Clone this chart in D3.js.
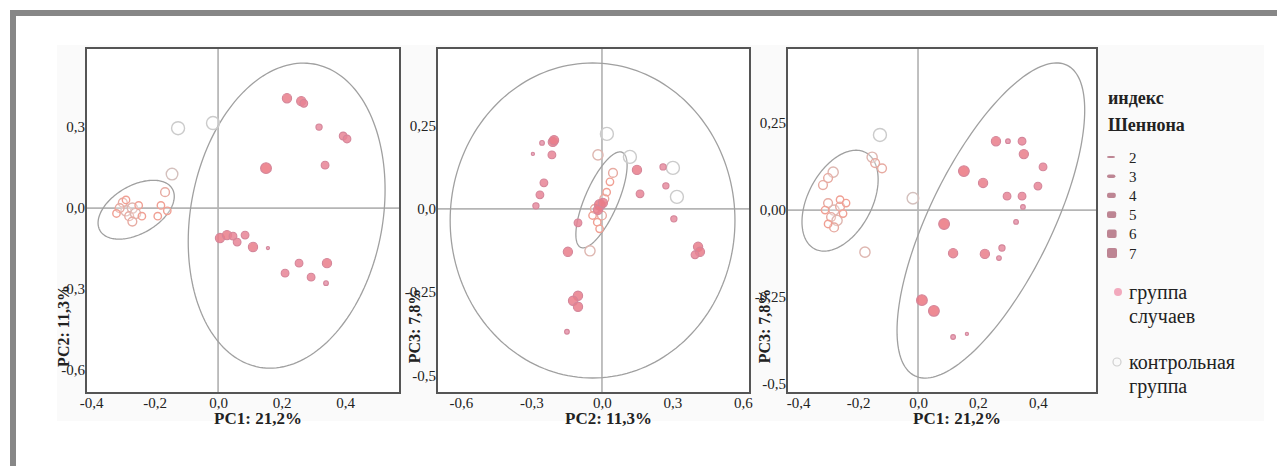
<!DOCTYPE html>
<html>
<head>
<meta charset="utf-8">
<script src="https://cdn.jsdelivr.net/npm/d3@7/dist/d3.min.js"></script>
<style>
  html, body { margin: 0; padding: 0; background: #ffffff; }
  svg { display: block; }
  text { font-family: "Liberation Serif", "Times New Roman", serif; fill: #222; }
</style>
</head>
<body>
<svg id="chart" width="1277" height="466"></svg>
<script>
// PCA score plots: [component A, component B, Shannon index]
const pc12Case = [
  [0.217, 0.407, 6], [0.262, 0.396, 6], [0.270, 0.388, 5], [0.318, 0.300, 4],
  [0.394, 0.267, 5], [0.406, 0.256, 5], [0.151, 0.148, 7], [0.337, 0.159, 5],
  [0.006, -0.111, 6], [0.028, -0.100, 6], [0.047, -0.104, 5], [0.060, -0.126, 5],
  [0.085, -0.100, 5], [0.110, -0.144, 6], [0.157, -0.148, 2], [0.255, -0.204, 5],
  [0.343, -0.204, 6], [0.211, -0.241, 5], [0.293, -0.256, 5], [0.340, -0.278, 3]
];
const pc12Control = [
  [-0.126, 0.296, 7], [-0.016, 0.315, 7], [-0.145, 0.126, 6], [-0.167, 0.059, 4],
  [-0.180, 0.010, 3], [-0.160, -0.010, 3], [-0.190, -0.030, 3],
  [-0.300, 0.020, 4], [-0.290, -0.010, 5], [-0.270, 0.000, 5], [-0.280, -0.030, 4],
  [-0.260, -0.020, 5], [-0.310, 0.000, 4], [-0.250, 0.010, 3], [-0.270, -0.050, 4],
  [-0.290, 0.030, 3], [-0.240, -0.030, 3], [-0.320, -0.020, 3]
];
const pc23Case = [
  [-0.255, 0.198, 3], [-0.209, 0.201, 6], [-0.204, 0.206, 6], [-0.213, 0.162, 5],
  [-0.294, 0.165, 2], [-0.247, 0.078, 5], [-0.264, 0.042, 5], [-0.281, 0.009, 4],
  [-0.102, -0.042, 5], [-0.145, -0.129, 6], [-0.102, -0.261, 6], [-0.123, -0.276, 6],
  [-0.102, -0.294, 6], [-0.149, -0.369, 3], [-0.009, 0.012, 7], [-0.017, -0.003, 6],
  [0.004, 0.018, 6], [0.149, 0.117, 6], [0.260, 0.126, 4], [0.272, 0.069, 4],
  [0.162, 0.045, 5], [0.306, -0.030, 4], [0.409, -0.114, 6], [0.417, -0.129, 6],
  [0.396, -0.138, 5]
];
const pc23Control = [
  [0.021, 0.225, 7], [-0.017, 0.162, 5], [0.119, 0.156, 7], [0.302, 0.123, 7],
  [0.319, 0.036, 7], [0.047, 0.108, 4], [0.034, 0.081, 3], [-0.051, -0.126, 5],
  [-0.030, 0.000, 4], [0.000, -0.020, 4], [-0.020, -0.040, 3], [0.010, 0.030, 4],
  [-0.040, -0.020, 3], [0.020, 0.050, 3], [-0.010, -0.060, 3]
];
const pc13Case = [
  [0.260, 0.198, 6], [0.300, 0.198, 3], [0.347, 0.198, 5], [0.353, 0.161, 6],
  [0.417, 0.124, 5], [0.153, 0.112, 7], [0.217, 0.078, 6], [0.297, 0.040, 5],
  [0.347, 0.040, 5], [0.350, 0.009, 3], [0.327, -0.034, 3], [0.400, 0.069, 5],
  [0.087, -0.040, 7], [0.117, -0.124, 6], [0.223, -0.126, 6], [0.280, -0.109, 4],
  [0.270, -0.138, 3], [0.013, -0.259, 7], [0.053, -0.290, 7], [0.117, -0.365, 3],
  [0.163, -0.356, 2]
];
const pc13Control = [
  [-0.127, 0.216, 7], [-0.153, 0.152, 5], [-0.143, 0.135, 4], [-0.120, 0.120, 4],
  [-0.283, 0.109, 5], [-0.300, 0.092, 4], [-0.317, 0.072, 4], [-0.017, 0.034, 6],
  [-0.177, -0.121, 5],
  [-0.300, 0.020, 4], [-0.280, 0.000, 5], [-0.260, 0.010, 4], [-0.290, -0.020, 4],
  [-0.270, -0.030, 5], [-0.250, -0.010, 3], [-0.310, 0.000, 3], [-0.280, -0.050, 4],
  [-0.260, 0.030, 3], [-0.300, -0.040, 3], [-0.240, 0.020, 3]
];

// Group ellipses: [centre A, centre B, half-extent A, half-extent B, correlation]
const pc12Ellipses = [[-0.258, -0.006, 0.120, 0.109, 0.45], [0.216, -0.028, 0.310, 0.565, 0.17]];
const pc23Ellipses = [[-0.002, 0.027, 0.109, 0.144, 0.72], [-0.040, -0.035, 0.606, 0.473, 0.0]];
const pc13Ellipses = [[-0.260, 0.027, 0.127, 0.145, 0.42], [0.243, -0.030, 0.313, 0.453, 0.70]];

// Axis domains, ticks and titles
const pc12Domain = [[-0.416, 0.573], [-0.685, 0.593]];
const pc23Domain = [[-0.702, 0.630], [-0.553, 0.483]];
const pc13Domain = [[-0.437, 0.597], [-0.526, 0.466]];
const pc12XTicks = [-0.4, -0.2, 0, 0.2, 0.4];
const pc12XLabels = ["-0,4", "-0,2", "0,0", "0,2", "0,4"];
const pc12YTicks = [0.3, 0, -0.3, -0.6];
const pc12YLabels = ["0,3", "0,0", "-0,3", "-0,6"];
const pc23XTicks = [-0.6, -0.3, 0, 0.3, 0.6];
const pc23XLabels = ["-0,6", "-0,3", "0,0", "0,3", "0,6"];
const pc23YTicks = [0.25, 0, -0.25, -0.5];
const pc23YLabels = ["0,25", "0,0", "-0,25", "-0,5"];
const pc13XTicks = [-0.4, -0.2, 0, 0.2, 0.4];
const pc13XLabels = ["-0,4", "-0,2", "0,0", "0,2", "0,4"];
const pc13YTicks = [0.25, 0, -0.25, -0.5];
const pc13YLabels = ["0,25", "0,00", "-0,25", "-0,5"];
const axisTitles = [["PC1: 21,2%", "PC2: 11,3%"], ["PC2: 11,3%", "PC3: 7,8%"], ["PC1: 21,2%", "PC3: 7,8%"]];

// Legend
const legendTitle = ["индекс", "Шеннона"];
const shannonLevels = [2, 3, 4, 5, 6, 7];
const groupNames = [["группа", "случаев"], ["контрольная", "группа"]];

const svg = d3.select("#chart");

// outer frame and soft backdrop
svg.append("rect").attr("x", 57).attr("y", 45).attr("width", 1207).attr("height", 376).attr("fill", "#fafafa");
svg.append("rect").attr("x", 10).attr("y", 10).attr("width", 1267).attr("height", 6).attr("fill", "#878787");
svg.append("rect").attr("x", 10).attr("y", 10).attr("width", 6).attr("height", 456).attr("fill", "#878787");

const rCase = d3.scaleLinear().domain([2, 7]).range([1.6, 5.4]);
const rControl = d3.scaleLinear().domain([2, 7]).range([3, 6.5]);
const caseFill = d3.scaleLinear().domain([2, 7]).range(["#e39ab4", "#eb7680"]);
const controlStroke = d3.scaleLinear().domain([3, 7]).range(["#f0a094", "#cbcbcb"]).clamp(true);

const panels = [
  { box: [86, 400], domain: pc12Domain, xt: pc12XTicks, xl: pc12XLabels, yt: pc12YTicks, yl: pc12YLabels,
    cases: pc12Case, controls: pc12Control, ellipses: pc12Ellipses, titles: axisTitles[0] },
  { box: [437, 750], domain: pc23Domain, xt: pc23XTicks, xl: pc23XLabels, yt: pc23YTicks, yl: pc23YLabels,
    cases: pc23Case, controls: pc23Control, ellipses: pc23Ellipses, titles: axisTitles[1] },
  { box: [787, 1097], domain: pc13Domain, xt: pc13XTicks, xl: pc13XLabels, yt: pc13YTicks, yl: pc13YLabels,
    cases: pc13Case, controls: pc13Control, ellipses: pc13Ellipses, titles: axisTitles[2] }
];
const plotTop = 48, plotBottom = 393;

panels.forEach(p => {
  const [x0, x1] = p.box;
  const x = d3.scaleLinear().domain(p.domain[0]).range([x0, x1]);
  const y = d3.scaleLinear().domain(p.domain[1]).range([plotBottom, plotTop]);
  const g = svg.append("g");

  g.append("rect").attr("x", x0).attr("y", plotTop).attr("width", x1 - x0).attr("height", plotBottom - plotTop)
    .attr("fill", "#ffffff");

  // reference lines through the origin
  g.append("line").attr("x1", x(0)).attr("x2", x(0)).attr("y1", plotTop).attr("y2", plotBottom)
    .attr("stroke", "#b5b5b5").attr("stroke-width", 1.7);
  g.append("line").attr("x1", x0).attr("x2", x1).attr("y1", y(0)).attr("y2", y(0))
    .attr("stroke", "#b5b5b5").attr("stroke-width", 1.7);

  // group ellipses
  const line = d3.line().x(d => x(d[0])).y(d => y(d[1])).curve(d3.curveLinearClosed);
  p.ellipses.forEach(([cx, cy, hx, hy, r]) => {
    const pts = d3.range(0, 2 * Math.PI, Math.PI / 90).map(t => [
      cx + hx * Math.cos(t),
      cy + hy * (r * Math.cos(t) + Math.sqrt(1 - r * r) * Math.sin(t))
    ]);
    g.append("path").attr("d", line(pts)).attr("fill", "none")
      .attr("stroke", "#a0a0a0").attr("stroke-width", 1.3);
  });

  // control group: open circles
  g.selectAll(null).data(p.controls).join("circle")
    .attr("cx", d => x(d[0])).attr("cy", d => y(d[1])).attr("r", d => rControl(d[2]))
    .attr("fill", "rgba(255,255,255,0.25)").attr("stroke", d => controlStroke(d[2]))
    .attr("stroke-width", 1.4);

  // case group: filled circles
  g.selectAll(null).data(p.cases).join("circle")
    .attr("cx", d => x(d[0])).attr("cy", d => y(d[1])).attr("r", d => rCase(d[2]))
    .attr("fill", d => caseFill(d[2])).attr("fill-opacity", 0.85)
    .attr("stroke", "#d4869a").attr("stroke-width", 1.1);

  // frame
  g.append("rect").attr("x", x0).attr("y", plotTop).attr("width", x1 - x0).attr("height", plotBottom - plotTop)
    .attr("fill", "none").attr("stroke", "#555").attr("stroke-width", 2);

  // axes
  const ax = g.append("g").attr("transform", `translate(0,${plotBottom})`)
    .call(d3.axisBottom(x).tickValues(p.xt).tickFormat((d, i) => p.xl[i]).tickSize(0).tickPadding(4));
  const ay = g.append("g").attr("transform", `translate(${x0},0)`)
    .call(d3.axisLeft(y).tickValues(p.yt).tickFormat((d, i) => p.yl[i]).tickSize(0).tickPadding(1));
  [ax, ay].forEach(a => {
    a.select(".domain").remove();
    a.selectAll("text").attr("font-family", "Liberation Serif, serif").attr("font-size", 15).attr("fill", "#2a2a2a");
  });

  g.append("text").attr("x", (x0 + x1) / 2 + 15).attr("y", 424).attr("text-anchor", "middle")
    .attr("font-size", 17).attr("font-weight", "bold").text(p.titles[0]);
  g.append("text").attr("transform", `translate(${x0 - 17},326) rotate(-90)`).attr("text-anchor", "middle")
    .attr("font-size", 16).attr("font-weight", "bold").text(p.titles[1]);
});

// legend
const lg = svg.append("g");
legendTitle.forEach((t, i) => {
  lg.append("text").attr("x", 1108).attr("y", 104 + i * 27).attr("font-size", 18)
    .attr("font-weight", "bold").text(t);
});
const symH = d3.scaleLinear().domain([2, 7]).range([2, 10]);
const symW = d3.scaleLinear().domain([2, 7]).range([8, 10]);
shannonLevels.forEach((v, i) => {
  const cy = 157 + i * 19.2;
  lg.append("rect").attr("x", 1107).attr("y", cy - symH(v) / 2).attr("width", symW(v)).attr("height", symH(v))
    .attr("rx", 2).attr("fill", "#bd8593");
  lg.append("text").attr("x", 1129).attr("y", cy + 5.5).attr("font-size", 15).text(v);
});
lg.append("circle").attr("cx", 1118).attr("cy", 292).attr("r", 4).attr("fill", "#f2a9bd");
lg.append("circle").attr("cx", 1117).attr("cy", 362).attr("r", 4).attr("fill", "none")
  .attr("stroke", "#cfcfcf").attr("stroke-width", 1.2);
groupNames.forEach((lines, gi) => {
  lines.forEach((t, i) => {
    lg.append("text").attr("x", 1129).attr("y", (gi === 0 ? 299 : 369) + i * 24)
      .attr("font-size", 20).text(t);
  });
});
</script>
</body>
</html>
